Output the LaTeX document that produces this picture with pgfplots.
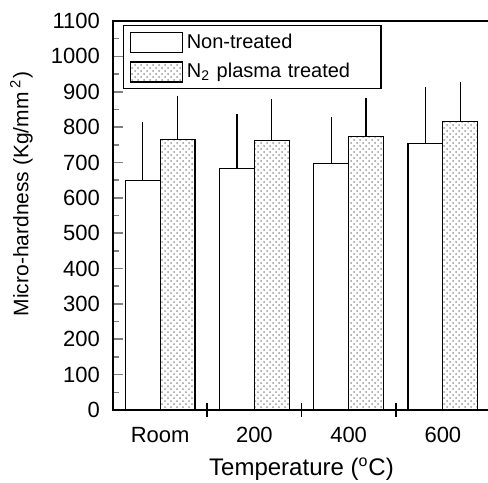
\documentclass[border=0pt]{standalone}
\usepackage{fontspec}
\setmainfont{Liberation Sans}
\usepackage{pgfplots}
\pgfplotsset{compat=1.18}
\usetikzlibrary{patterns}

\pgfplotstableread{
x  non   nonerr  pl    plerr
0  650   147     765   107
1  682   138     762   100
2  698   113     773    93
3  754   142     815    95
}\hardness

\begin{document}
\begin{tikzpicture}
\begin{axis}[
  scale only axis,
  width=188.5pt, height=194.5pt,
  xmin=-0.5, xmax=3.5,
  ymin=0, ymax=1100,
  ytick={0,100,...,1100},
  minor y tick num=1,
  xtick={0,1,2,3},
  xticklabels={Room,200,400,600},
  major x tick style={draw=none},
  extra x ticks={0.5,1.5,2.5},
  extra x tick labels={},
  extra x tick style={major tick length=7pt, tick align=center, major x tick style={draw=black, line width=0.9pt}},
  xtick pos=bottom, ytick pos=left,
  tick align=inside,
  major tick length=5pt, minor tick length=3pt,
  tick style={line width=0.8pt},
  axis line style={line width=1.1pt},
  /pgf/number format/assume math mode=true,
  /pgf/number format/1000 sep={},
  tick label style={font=\fontsize{11}{13}\selectfont},
  yticklabel style={xshift=-3pt},
  xticklabel style={yshift=0pt},
  xlabel style={font=\fontsize{12}{14}\selectfont, at={(axis description cs:0.5,-0.152)}, anchor=center},
  ylabel style={font=\fontsize{10.5}{12.5}\selectfont, at={(axis description cs:-0.243,0.555)}, anchor=center},
  xlabel={Temperature (\textsuperscript{o}C)},
  ylabel={Micro-hardness (Kg/mm\textsuperscript{ 2})},
  ybar, bar width=0.37,
  legend style={at={(rel axis cs:0.026,0.99)}, anchor=north west,
    font=\fontsize{10}{12}\selectfont, draw=black, line width=0.8pt,
    inner xsep=3pt, inner ysep=2pt, row sep=2pt,
    text width=92pt},
  legend cell align=left,
  legend image code/.code={\draw[#1, line width=0.6pt] (0pt,-5pt) rectangle (26pt,5pt);},
]
\addplot[bar shift=-0.185, draw=black, fill=white, line width=0.6pt,
  error bars/.cd, y dir=plus, y explicit,
  error bar style={line width=0.6pt, black},
  error mark options={mark size=3pt, line width=0.6pt, black}]
  table[x=x, y=non, y error=nonerr] {\hardness};
\addlegendentry{Non-treated}
\addplot[bar shift=0.185, draw=black, pattern=crosshatch dots, pattern color=gray!80, line width=0.6pt,
  error bars/.cd, y dir=plus, y explicit,
  error bar style={line width=0.6pt, black},
  error mark options={mark size=3pt, line width=0.6pt, black}]
  table[x=x, y=pl, y error=plerr] {\hardness};
\addlegendentry{N\textsubscript{2} plasma treated}
\end{axis}
\pgfresetboundingbox
\path ([shift={(-56.5pt,-36pt)}]current axis.south west) rectangle ([shift={(-1pt,10.5pt)}]current axis.north east);
\end{tikzpicture}
\end{document}
